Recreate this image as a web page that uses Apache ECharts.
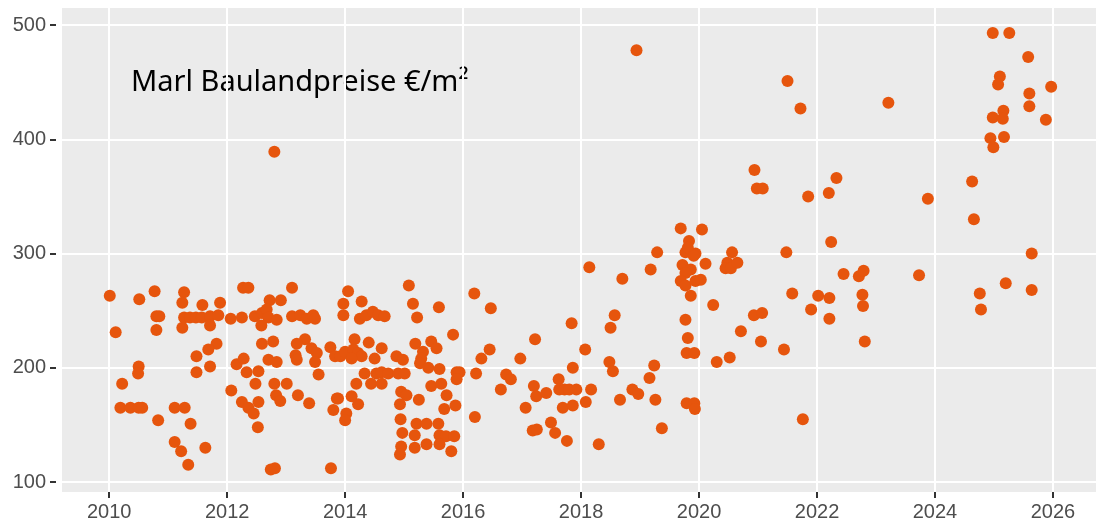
<!DOCTYPE html>
<html>
<head>
<meta charset="utf-8">
<title>Marl Baulandpreise</title>
<script src="https://cdn.jsdelivr.net/npm/echarts@6/dist/echarts.min.js"></script>
<style>
  html, body { margin: 0; padding: 0; background: #fff; }
  #chart { width: 1096px; height: 524px; }
</style>
</head>
<body>
<div id="chart"></div>
<script>
// Kauffälle: [Jahr, Preis €/m²]
const sales2010to2013 = [
  [2010.01, 263], [2010.51, 260], [2010.77, 267], [2011.27, 266], [2011.24, 257], [2010.80, 245],
  [2010.85, 245], [2010.80, 233], [2010.11, 231], [2011.24, 235], [2011.27, 244], [2011.37, 244],
  [2011.47, 244], [2011.57, 244], [2011.58, 255], [2011.48, 210], [2011.48, 196], [2010.50, 201],
  [2010.49, 195], [2010.22, 186], [2010.19, 165], [2010.36, 165], [2010.50, 165], [2010.56, 165],
  [2011.11, 165], [2011.28, 165], [2010.83, 154], [2011.38, 151], [2011.11, 135], [2011.22, 127],
  [2011.34, 115], [2011.63, 130], [2011.88, 257], [2011.71, 245], [2011.85, 246], [2011.71, 237],
  [2012.06, 243], [2012.25, 244], [2012.27, 270], [2012.36, 270], [2013.10, 270], [2012.72, 259],
  [2012.91, 259], [2012.47, 245], [2012.59, 248], [2012.67, 251], [2012.70, 244], [2012.84, 242],
  [2012.58, 237], [2013.10, 245], [2013.24, 246], [2013.35, 243], [2013.46, 246], [2013.49, 243],
  [2011.82, 221], [2011.68, 216], [2011.71, 201], [2012.59, 221], [2012.78, 223], [2012.16, 203],
  [2012.28, 208], [2012.33, 196], [2012.53, 197], [2012.70, 207], [2012.84, 205], [2013.16, 211],
  [2013.18, 207], [2013.32, 225], [2013.18, 221], [2013.43, 217], [2013.52, 213], [2013.49, 205],
  [2013.55, 194], [2013.75, 218], [2013.83, 210], [2013.92, 210], [2012.07, 180], [2012.25, 170],
  [2012.36, 165], [2012.45, 160], [2012.48, 186], [2012.53, 170], [2012.80, 186], [2012.83, 176],
  [2012.90, 171], [2013.01, 186], [2013.20, 176], [2013.39, 169], [2013.80, 163], [2013.86, 173],
  [2012.52, 148], [2012.74, 111], [2012.81, 112], [2013.76, 112], [2012.80, 389]
]

const sales2014to2016 = [
  [2014.05, 267], [2013.97, 256], [2013.97, 246], [2014.28, 258], [2014.25, 243], [2014.36, 246],
  [2014.47, 249], [2014.56, 246], [2014.67, 245], [2015.08, 272], [2015.15, 256], [2015.22, 244],
  [2015.59, 253], [2016.19, 265], [2015.83, 229], [2014.16, 225], [2014.40, 222], [2014.62, 217],
  [2014.00, 214], [2014.14, 216], [2014.22, 213], [2014.28, 210], [2014.11, 208], [2014.50, 208],
  [2014.87, 210], [2014.98, 207], [2015.19, 221], [2015.32, 214], [2015.29, 208], [2015.27, 204],
  [2015.46, 223], [2015.55, 217], [2015.41, 200], [2015.60, 199], [2015.89, 196], [2015.94, 196],
  [2015.89, 190], [2014.33, 195], [2014.53, 195], [2014.62, 196], [2014.73, 195], [2014.90, 195],
  [2015.01, 195], [2014.44, 186], [2014.62, 186], [2014.19, 186], [2013.88, 173], [2014.11, 175],
  [2014.22, 168], [2014.02, 160], [2014.00, 154], [2014.95, 179], [2015.04, 176], [2014.93, 168],
  [2015.25, 172], [2015.46, 184], [2015.63, 186], [2015.72, 176], [2015.68, 164], [2015.87, 167],
  [2014.94, 155], [2014.97, 143], [2014.95, 131], [2014.93, 124], [2015.21, 151], [2015.38, 151],
  [2015.58, 151], [2015.18, 141], [2015.18, 130], [2015.38, 133], [2015.60, 141], [2015.71, 140],
  [2015.85, 140], [2015.60, 133], [2015.80, 127], [2016.20, 157], [2016.22, 195], [2016.47, 252],
  [2016.45, 216], [2016.31, 208], [2016.97, 208], [2016.73, 194], [2016.81, 190], [2016.64, 181]
]

const sales2017to2019 = [
  [2018.14, 288], [2017.84, 239], [2018.57, 246], [2018.50, 235], [2017.22, 225], [2018.07, 216],
  [2017.86, 200], [2018.48, 205], [2018.54, 197], [2017.20, 184], [2017.24, 175], [2017.41, 178],
  [2017.62, 190], [2017.63, 181], [2017.72, 181], [2017.80, 181], [2017.92, 181], [2018.17, 181],
  [2017.06, 165], [2017.69, 165], [2017.86, 167], [2018.08, 170], [2017.18, 145], [2017.25, 146],
  [2017.49, 152], [2017.56, 143], [2017.76, 136], [2018.30, 133], [2018.94, 478], [2019.69, 322],
  [2019.29, 301], [2019.18, 286], [2018.70, 278], [2019.83, 311], [2019.77, 301], [2019.94, 300],
  [2019.72, 290], [2019.86, 286], [2019.77, 283], [2019.69, 276], [2019.77, 272], [2019.94, 276],
  [2019.86, 263], [2019.81, 305], [2019.91, 298], [2019.77, 242], [2019.81, 226], [2019.79, 213],
  [2019.92, 213], [2019.24, 202], [2019.16, 191], [2018.87, 181], [2018.97, 177], [2018.66, 172],
  [2019.26, 172], [2019.79, 169], [2019.92, 169], [2019.93, 164], [2019.37, 147]
]

const sales2020to2026 = [
  [2020.05, 321], [2020.03, 277], [2020.11, 291], [2020.56, 301], [2020.48, 292], [2020.45, 287],
  [2020.54, 287], [2020.65, 292], [2020.24, 255], [2020.71, 232], [2020.93, 246], [2021.07, 248],
  [2020.30, 205], [2020.52, 209], [2021.05, 223], [2021.44, 216], [2021.76, 155], [2022.24, 310],
  [2021.48, 301], [2022.45, 282], [2022.71, 280], [2022.79, 285], [2021.58, 265], [2022.02, 263],
  [2022.21, 261], [2021.90, 251], [2022.21, 243], [2022.77, 264], [2022.78, 254], [2022.81, 223],
  [2021.50, 451], [2021.72, 427], [2023.21, 432], [2020.94, 373], [2020.98, 357], [2021.08, 357],
  [2021.85, 350], [2022.20, 353], [2022.33, 366], [2024.98, 493], [2025.26, 493], [2025.58, 472],
  [2025.10, 455], [2025.07, 448], [2025.97, 446], [2025.60, 440], [2025.60, 429], [2025.16, 425],
  [2024.98, 419], [2025.15, 418], [2025.88, 417], [2024.94, 401], [2024.99, 393], [2025.17, 402],
  [2024.63, 363], [2023.88, 348], [2024.66, 330], [2025.64, 300], [2023.73, 281], [2025.20, 274],
  [2024.76, 265], [2024.78, 251], [2025.64, 268]
]

const xTicks = [2010, 2012, 2014, 2016, 2018, 2020, 2022, 2024, 2026]
const yTicks = [100, 200, 300, 400, 500]
const chartTitle = 'Marl Baulandpreise €/m²'

const allSales = [].concat(sales2010to2013, sales2014to2016, sales2017to2019, sales2020to2026)

const mChart = echarts.init(document.getElementById('chart'), null, { renderer: 'canvas' })

const options = {
  animation: false,
  backgroundColor: '#ffffff',
  // Panel wie ggplot theme_gray
  grid: {
    left: 62,
    right: 0,
    top: 8,
    bottom: 32,
    show: true,
    backgroundColor: '#EBEBEB',
    borderWidth: 0
  },
  xAxis: {
    type: 'value',
    min: 2009.2,
    max: 2026.73,
    axisLine: { show: false },
    axisTick: {
      show: true,
      customValues: xTicks,
      length: 6,
      lineStyle: { color: '#333333', width: 2 }
    },
    axisLabel: {
      customValues: xTicks,
      margin: 10,
      color: '#4D4D4D',
      fontFamily: 'Liberation Sans',
      fontSize: 20,
      formatter: (v) => String(v)
    },
    splitLine: { show: true, lineStyle: { color: '#ffffff', width: 2 } }
  },
  yAxis: {
    type: 'value',
    min: 91.25,
    max: 514.9,
    offset: 6,
    axisLine: { show: false },
    axisTick: {
      show: true,
      customValues: yTicks,
      length: 6,
      lineStyle: { color: '#333333', width: 2 }
    },
    axisLabel: {
      customValues: yTicks,
      margin: 10,
      color: '#4D4D4D',
      fontFamily: 'Liberation Sans',
      fontSize: 20
    },
    splitLine: { show: true, lineStyle: { color: '#ffffff', width: 2 } }
  },
  // Beschriftung im Panel
  graphic: [
    {
      type: 'text',
      left: 131,
      top: 68,
      style: {
        text: chartTitle,
        fill: '#000000',
        font: '29px "Noto Sans"'
      }
    }
  ],
  series: [
    {
      type: 'scatter',
      data: allSales,
      symbolSize: 12,
      itemStyle: { color: '#E6550D', opacity: 1 },
      emphasis: { disabled: true }
    }
  ]
}

mChart.setOption(options)
</script>
</body>
</html>
